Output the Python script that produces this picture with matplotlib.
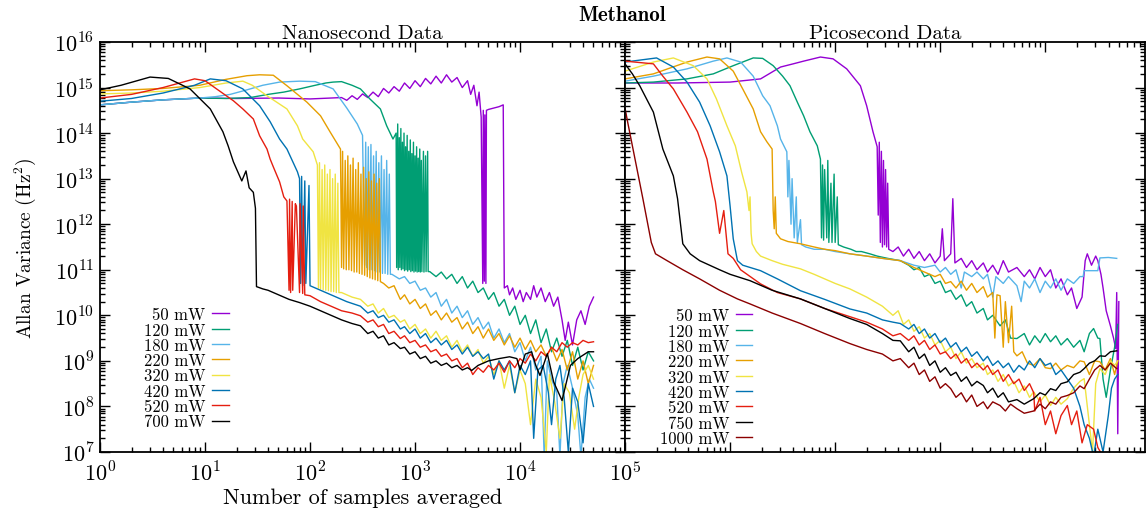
import numpy as np
import matplotlib
matplotlib.use("Agg")
import matplotlib.pyplot as plt
from matplotlib.ticker import FixedLocator, LogLocator, NullFormatter, FuncFormatter

plt.rcParams['font.family'] = 'serif'
plt.rcParams['font.serif'] = ['cmr10', 'DejaVu Serif']
plt.rcParams['mathtext.fontset'] = 'cm'
plt.rcParams['axes.unicode_minus'] = False

# curves, as (log10 samples, log10 variance)
ns_50 = [(0, 14.62), (0.3, 14.68), (0.6, 14.73), (0.95, 14.77), (1.3, 14.76), (1.7, 14.77), (2.0, 14.75),
         (2.3, 14.78), (2.35, 14.72), (2.4, 14.82), (2.45, 14.74), (2.5, 14.86), (2.55, 14.78), (2.6, 14.9),
         (2.65, 14.8), (2.7, 14.98), (2.75, 14.88), (2.8, 15.02), (2.85, 14.92), (2.9, 15.1), (2.95, 14.98),
         (3.0, 15.15), (3.05, 15.02), (3.1, 15.2), (3.15, 15.08), (3.2, 15.25), (3.25, 15.1), (3.3, 15.28),
         (3.35, 15.12), (3.4, 15.22), (3.45, 15.0), (3.5, 15.15), (3.53, 14.85), (3.56, 15.05), (3.59, 14.6),
         (3.61, 14.9), (3.63, 14.35), (3.645, 10.7), (3.65, 14.5), (3.66, 10.75), (3.665, 14.4), (3.675, 10.7),
         (3.68, 14.5), (3.7, 14.52), (3.75, 14.55), (3.8, 14.58), (3.84, 14.62), (3.85, 10.6), (3.88, 10.65),
         (3.9, 10.45), (3.93, 10.6), (3.96, 10.35), (4.0, 10.55), (4.03, 10.3), (4.06, 10.5), (4.1, 10.35),
         (4.13, 10.65), (4.16, 10.4), (4.2, 10.6), (4.24, 10.3), (4.28, 10.5), (4.32, 10.2), (4.36, 10.4),
         (4.4, 9.9), (4.43, 9.45), (4.46, 9.85), (4.5, 9.35), (4.54, 9.9), (4.58, 10.1), (4.62, 9.8),
         (4.66, 10.2), (4.7, 10.4)]
ns_120 = [(0, 14.62), (0.3, 14.68), (0.6, 14.73), (0.95, 14.77), (1.2, 14.76), (1.43, 14.78), (1.6, 14.85),
          (1.75, 14.9), (1.9, 14.97), (2.05, 15.05), (2.15, 15.1), (2.22, 15.12), (2.3, 15.13), (2.4, 15.05),
          (2.48, 14.97), (2.57, 14.75), (2.67, 14.53), (2.73, 14.16), (2.79, 13.87),
          (2.82, 14.0), (2.825, 11.05), (2.835, 14.2), (2.84, 11.0), (2.85, 13.9), (2.855, 11.05), (2.865, 14.1),
          (2.87, 11.0), (2.88, 13.8), (2.885, 11.02), (2.895, 14.0), (2.9, 10.98), (2.91, 13.7), (2.915, 11.0),
          (2.925, 13.95), (2.93, 10.97), (2.94, 13.6), (2.945, 11.0), (2.955, 13.85), (2.96, 10.96),
          (2.97, 13.55), (2.975, 10.98), (2.985, 13.8), (2.99, 10.95), (3.0, 13.5), (3.005, 10.97),
          (3.015, 13.7), (3.02, 10.95), (3.03, 13.45), (3.035, 10.96), (3.045, 13.65), (3.05, 10.95),
          (3.06, 13.4), (3.065, 10.96), (3.08, 13.6), (3.085, 10.95), (3.1, 13.5), (3.105, 10.96),
          (3.12, 13.6), (3.125, 10.96),
          (3.14, 10.96), (3.2, 10.85), (3.25, 10.95), (3.3, 10.8), (3.35, 10.9), (3.4, 10.7), (3.45, 10.85),
          (3.5, 10.6), (3.55, 10.75), (3.6, 10.5), (3.65, 10.6), (3.7, 10.35), (3.75, 10.5), (3.8, 10.2),
          (3.85, 10.35), (3.9, 10.0), (3.95, 10.2), (4.0, 9.8), (4.05, 10.0), (4.1, 9.6), (4.15, 9.9),
          (4.2, 9.4), (4.25, 9.7), (4.3, 9.2), (4.35, 9.5), (4.4, 9.1), (4.45, 9.45), (4.5, 8.9), (4.55, 9.3),
          (4.6, 8.8), (4.65, 9.2), (4.7, 9.0)]
ns_180 = [(0, 14.62), (0.3, 14.68), (0.6, 14.73), (0.95, 14.77), (1.1, 14.8), (1.24, 14.85), (1.4, 14.95),
          (1.55, 15.05), (1.71, 15.12), (1.9, 15.14), (2.05, 15.13), (2.22, 14.97), (2.35, 14.55),
          (2.45, 14.2), (2.5, 13.95),
          (2.52, 11.1), (2.53, 13.8), (2.54, 11.05), (2.555, 13.7), (2.565, 11.0), (2.58, 13.75), (2.59, 11.0),
          (2.605, 13.5), (2.615, 10.98), (2.63, 13.6), (2.64, 10.95), (2.655, 13.35), (2.665, 10.95),
          (2.68, 13.5), (2.69, 10.92), (2.705, 13.2), (2.715, 10.92), (2.73, 13.4), (2.74, 10.9),
          (2.755, 13.1), (2.765, 10.9),
          (2.78, 10.9), (2.85, 10.8), (2.9, 10.85), (2.95, 10.7), (3.0, 10.75), (3.05, 10.55), (3.1, 10.6),
          (3.15, 10.4), (3.2, 10.5), (3.25, 10.2), (3.3, 10.35), (3.35, 10.05), (3.4, 10.2), (3.45, 9.95),
          (3.5, 10.1), (3.55, 9.8), (3.6, 9.95), (3.65, 9.7), (3.7, 9.85), (3.75, 9.5), (3.8, 9.7),
          (3.85, 9.4), (3.9, 9.6), (3.95, 9.2), (4.0, 9.4), (4.05, 9.0), (4.1, 9.3), (4.15, 8.8), (4.2, 9.1),
          (4.23, 6.9), (4.26, 9.0), (4.3, 8.6), (4.35, 8.3), (4.38, 6.9), (4.41, 8.5), (4.45, 8.9), (4.5, 8.4),
          (4.55, 7.8), (4.58, 6.9), (4.62, 8.2), (4.66, 8.6), (4.7, 8.4)]
ns_220 = [(0, 14.93), (0.3, 14.95), (0.6, 14.98), (0.95, 15.05), (1.2, 15.18), (1.4, 15.26), (1.52, 15.28),
          (1.65, 15.27), (1.78, 15.04), (1.97, 14.68), (2.1, 14.38), (2.19, 14.03), (2.29, 13.65),
          (2.3, 11.05), (2.31, 13.6), (2.32, 11.02), (2.335, 13.4), (2.345, 11.0), (2.36, 13.5), (2.37, 11.0),
          (2.385, 13.3), (2.395, 10.98), (2.41, 13.45), (2.42, 10.95), (2.435, 13.2), (2.445, 10.95),
          (2.46, 13.35), (2.47, 10.92), (2.485, 13.1), (2.495, 10.9), (2.51, 13.25), (2.52, 10.88),
          (2.535, 13.0), (2.545, 10.85), (2.56, 13.15), (2.57, 10.82), (2.585, 12.95), (2.595, 10.8),
          (2.61, 13.1), (2.62, 10.78), (2.635, 12.9), (2.645, 10.76), (2.66, 13.0), (2.67, 10.74),
          (2.7, 10.7), (2.75, 10.6), (2.8, 10.65), (2.86, 10.35), (2.9, 10.45), (2.95, 10.25), (3.0, 10.35),
          (3.05, 10.15), (3.1, 10.25), (3.15, 10.0), (3.2, 10.1), (3.25, 9.9), (3.3, 10.05), (3.35, 9.85),
          (3.4, 9.95), (3.45, 9.7), (3.5, 9.85), (3.55, 9.6), (3.6, 9.75), (3.65, 9.5), (3.7, 9.7),
          (3.75, 9.45), (3.8, 9.6), (3.85, 9.35), (3.9, 9.55), (3.95, 9.3), (4.0, 9.5), (4.05, 9.25),
          (4.1, 9.45), (4.15, 9.2), (4.2, 9.35), (4.25, 9.1), (4.3, 9.3), (4.35, 9.0), (4.4, 9.25),
          (4.45, 8.8), (4.5, 9.2), (4.55, 8.6), (4.6, 9.0), (4.65, 8.5), (4.7, 8.9)]
ns_320 = [(0, 14.86), (0.3, 14.88), (0.6, 14.92), (0.95, 15.0), (1.2, 15.1), (1.36, 15.14), (1.45, 15.05),
          (1.59, 14.82), (1.78, 14.53), (1.88, 14.16), (1.93, 13.87), (2.03, 13.59), (2.07, 13.3),
          (2.08, 10.6), (2.09, 13.35), (2.1, 10.58), (2.115, 13.2), (2.125, 10.56), (2.14, 13.3), (2.15, 10.55),
          (2.165, 13.1), (2.175, 10.54), (2.19, 13.2), (2.2, 10.52), (2.215, 13.0), (2.225, 10.52),
          (2.24, 13.1), (2.25, 10.5), (2.265, 12.9), (2.275, 10.5),
          (2.3, 10.5), (2.4, 10.4), (2.48, 10.35), (2.55, 10.2), (2.6, 10.25), (2.65, 10.05), (2.7, 10.15),
          (2.75, 9.95), (2.8, 10.0), (2.86, 9.85), (2.9, 9.9), (2.95, 9.7), (3.0, 9.8), (3.05, 9.6),
          (3.1, 9.7), (3.15, 9.5), (3.2, 9.65), (3.25, 9.45), (3.3, 9.55), (3.35, 9.3), (3.4, 9.45),
          (3.45, 9.2), (3.5, 9.35), (3.55, 9.1), (3.6, 9.25), (3.65, 8.95), (3.7, 9.1), (3.75, 8.7),
          (3.8, 9.0), (3.85, 8.4), (3.9, 8.9), (3.95, 8.3), (4.0, 8.8), (4.05, 8.5), (4.1, 7.6), (4.15, 8.6),
          (4.2, 8.2), (4.25, 7.0), (4.28, 8.7), (4.33, 8.1), (4.38, 7.3), (4.42, 8.5), (4.47, 8.3),
          (4.52, 7.5), (4.56, 8.2), (4.6, 8.7), (4.65, 8.9), (4.7, 8.6)]
ns_420 = [(0, 14.7), (0.3, 14.76), (0.6, 14.88), (0.9, 15.05), (1.05, 15.19), (1.2, 15.15), (1.36, 14.97),
          (1.52, 14.6), (1.62, 14.25), (1.71, 13.87), (1.78, 13.65), (1.88, 13.15), (1.9, 13.0),
          (1.91, 10.7), (1.92, 13.05), (1.93, 10.65), (1.95, 12.95), (1.96, 10.7), (1.99, 12.85), (2.0, 10.65),
          (2.05, 10.6), (2.15, 10.5), (2.25, 10.4), (2.35, 10.3), (2.48, 10.2), (2.55, 10.05), (2.6, 10.1),
          (2.65, 9.95), (2.7, 10.0), (2.75, 9.85), (2.8, 9.9), (2.86, 9.7), (2.9, 9.75), (2.95, 9.6),
          (3.0, 9.7), (3.05, 9.5), (3.1, 9.6), (3.15, 9.4), (3.2, 9.5), (3.25, 9.35), (3.3, 9.45),
          (3.35, 9.25), (3.4, 9.35), (3.45, 9.15), (3.5, 9.3), (3.55, 9.1), (3.6, 9.2), (3.65, 9.05),
          (3.7, 9.15), (3.75, 8.6), (3.8, 9.0), (3.85, 8.8), (3.9, 9.0), (3.95, 8.3), (4.0, 8.9), (4.05, 8.7),
          (4.1, 9.0), (4.13, 7.3), (4.17, 8.8), (4.22, 8.9), (4.27, 8.3), (4.3, 7.6), (4.34, 8.6),
          (4.38, 8.9), (4.42, 8.2), (4.46, 7.0), (4.5, 8.4), (4.55, 8.1), (4.6, 7.2), (4.65, 8.5), (4.7, 8.0)]
ns_520 = [(0, 14.77), (0.3, 14.85), (0.6, 15.0), (0.9, 15.19), (1.0, 15.15), (1.11, 14.97), (1.27, 14.71),
          (1.36, 14.53), (1.46, 14.31), (1.52, 13.94), (1.59, 13.65), (1.62, 13.43), (1.65, 13.26),
          (1.71, 12.93), (1.75, 12.6), (1.78, 12.51),
          (1.8, 10.55), (1.805, 12.55), (1.815, 10.5), (1.83, 12.5), (1.835, 10.55), (1.86, 12.45),
          (1.87, 12.4), (1.9, 10.5), (1.905, 12.45), (1.93, 10.48), (1.935, 12.4), (1.95, 10.45),
          (2.0, 10.43), (2.1, 10.3), (2.2, 10.2), (2.3, 10.1), (2.4, 10.05), (2.48, 9.99), (2.55, 9.85),
          (2.6, 9.9), (2.65, 9.75), (2.7, 9.8), (2.75, 9.6), (2.8, 9.65), (2.86, 9.49), (2.9, 9.55),
          (2.95, 9.4), (3.0, 9.45), (3.05, 9.3), (3.1, 9.35), (3.15, 9.2), (3.2, 9.25), (3.25, 9.1),
          (3.3, 9.15), (3.35, 9.0), (3.4, 9.05), (3.45, 8.85), (3.5, 8.95), (3.55, 8.7), (3.6, 8.85),
          (3.65, 8.75), (3.7, 8.9), (3.75, 8.8), (3.8, 8.95), (3.85, 8.75), (3.9, 9.0), (3.95, 8.85),
          (4.0, 9.05), (4.05, 8.95), (4.1, 9.15), (4.15, 9.0), (4.2, 9.2), (4.25, 9.1), (4.3, 9.3),
          (4.35, 9.2), (4.4, 9.4), (4.45, 9.3), (4.5, 9.4), (4.55, 9.35), (4.6, 9.45), (4.65, 9.4), (4.7, 9.42)]
ns_700 = [(0, 14.95), (0.2, 15.05), (0.476, 15.23), (0.65, 15.2), (0.857, 14.97), (1.05, 14.53),
          (1.17, 14.03), (1.22, 13.72), (1.27, 13.37), (1.35, 12.95), (1.39, 13.17), (1.42, 12.8),
          (1.46, 12.7), (1.48, 12.35), (1.49, 10.63),
          (1.55, 10.58), (1.6, 10.55), (1.7, 10.45), (1.8, 10.35), (1.9, 10.28), (2.0, 10.2), (2.1, 10.1),
          (2.2, 10.0), (2.3, 9.9), (2.4, 9.82), (2.48, 9.77), (2.55, 9.6), (2.6, 9.65), (2.65, 9.5),
          (2.7, 9.55), (2.75, 9.35), (2.8, 9.4), (2.86, 9.27), (2.9, 9.3), (2.95, 9.15), (3.0, 9.2),
          (3.05, 9.05), (3.1, 9.1), (3.15, 8.95), (3.2, 9.0), (3.25, 8.9), (3.3, 8.95), (3.35, 8.85),
          (3.4, 8.9), (3.45, 8.8), (3.5, 8.85), (3.54, 8.79), (3.6, 8.9), (3.7, 9.0), (3.8, 9.05),
          (3.9, 9.09), (3.97, 9.05), (4.0, 8.8), (4.05, 9.15), (4.11, 9.2), (4.15, 8.9), (4.19, 8.68),
          (4.26, 9.16), (4.32, 8.54), (4.4, 8.13), (4.48, 8.9), (4.55, 9.05), (4.59, 9.11), (4.65, 9.2),
          (4.7, 9.2)]

ps_50 = [(0, 15.1), (0.5, 15.1), (1.0, 15.12), (1.29, 15.19), (1.48, 15.45), (1.6, 15.52), (1.7, 15.58),
         (1.86, 15.67), (1.98, 15.63), (2.11, 15.41), (2.24, 15.04), (2.3, 14.6), (2.36, 14.03), (2.4, 13.7),
         (2.41, 12.2), (2.42, 13.8), (2.43, 11.6), (2.44, 13.6), (2.45, 11.5), (2.46, 13.4), (2.47, 11.55),
         (2.48, 13.2), (2.49, 11.5), (2.5, 12.9), (2.51, 11.45),
         (2.55, 11.4), (2.6, 11.5), (2.65, 11.3), (2.7, 11.45), (2.75, 11.25), (2.8, 11.4), (2.85, 11.2),
         (2.9, 11.35), (2.95, 11.15), (3.0, 11.3), (3.02, 11.9), (3.04, 11.2), (3.1, 11.35), (3.12, 12.56),
         (3.14, 11.15), (3.2, 11.25), (3.25, 11.05), (3.3, 11.2), (3.35, 11.0), (3.41, 11.15), (3.45, 10.95),
         (3.5, 11.1), (3.55, 10.9), (3.6, 11.2), (3.65, 10.95), (3.73, 11.05), (3.8, 10.85), (3.85, 11.0),
         (3.9, 10.8), (3.95, 11.05), (4.0, 10.85), (4.05, 11.0), (4.1, 10.6), (4.15, 10.8), (4.21, 10.45),
         (4.25, 10.6), (4.3, 10.15), (4.35, 10.4), (4.38, 11.2), (4.4, 11.35), (4.44, 11.1), (4.48, 11.3),
         (4.5, 11.2), (4.53, 10.9), (4.55, 10.6), (4.58, 10.1), (4.62, 9.77), (4.65, 9.5), (4.67, 9.27),
         (4.68, 10.5), (4.69, 7.4), (4.7, 10.3)]
ps_120 = [(0, 15.1), (0.27, 15.12), (0.59, 15.19), (0.84, 15.3), (1.03, 15.48), (1.22, 15.65), (1.31, 15.64),
          (1.41, 15.48), (1.5, 15.25), (1.57, 15.04), (1.64, 14.68), (1.7, 14.38), (1.76, 14.03),
          (1.83, 13.72), (1.86, 13.43),
          (1.87, 11.7), (1.88, 13.3), (1.89, 11.65), (1.9, 13.2), (1.92, 11.7), (1.93, 13.4), (1.94, 11.6),
          (1.96, 12.9), (1.97, 11.6), (1.99, 13.1), (2.0, 11.6), (2.02, 12.6), (2.03, 11.55),
          (2.08, 11.5), (2.15, 11.45), (2.2, 11.4), (2.25, 11.4), (2.33, 11.35), (2.4, 11.3), (2.5, 11.25),
          (2.62, 11.2), (2.7, 11.1), (2.75, 11.0), (2.8, 11.05), (2.85, 10.85), (2.9, 10.9), (2.95, 10.7),
          (3.0, 10.75), (3.05, 10.5), (3.1, 10.55), (3.15, 10.35), (3.2, 10.45), (3.25, 10.2), (3.3, 10.3),
          (3.35, 10.05), (3.41, 10.15), (3.45, 9.9), (3.5, 10.0), (3.57, 9.77), (3.62, 9.9), (3.67, 9.5),
          (3.73, 9.49), (3.8, 9.6), (3.85, 9.35), (3.9, 9.55), (3.95, 9.4), (4.0, 9.6), (4.05, 9.42),
          (4.1, 9.55), (4.15, 9.35), (4.21, 9.49), (4.27, 9.3), (4.33, 9.45), (4.37, 9.2), (4.42, 9.6),
          (4.46, 9.71), (4.5, 9.5), (4.52, 9.49), (4.55, 8.6), (4.58, 8.2), (4.62, 8.8), (4.66, 9.3), (4.69, 9.8)]
ps_180 = [(0, 15.14), (0.27, 15.25), (0.59, 15.41), (0.84, 15.58), (0.97, 15.65), (1.1, 15.56), (1.22, 15.25),
          (1.31, 14.82), (1.38, 14.6), (1.45, 14.16), (1.48, 13.87), (1.54, 13.59),
          (1.55, 12.6), (1.56, 13.4), (1.58, 12.0), (1.59, 13.0), (1.61, 11.7), (1.63, 12.6), (1.64, 11.6),
          (1.67, 12.1), (1.68, 11.55),
          (1.72, 11.5), (1.8, 11.45), (1.9, 11.45), (2.0, 11.4), (2.14, 11.35), (2.3, 11.3), (2.45, 11.25),
          (2.62, 11.2), (2.75, 11.1), (2.85, 11.05), (2.95, 11.1), (3.0, 10.95), (3.05, 11.05), (3.1, 10.9),
          (3.15, 11.0), (3.2, 10.6), (3.23, 10.95), (3.3, 10.85), (3.35, 10.95), (3.41, 10.8), (3.45, 10.9),
          (3.5, 10.4), (3.53, 10.85), (3.6, 10.7), (3.65, 10.85), (3.73, 10.65), (3.77, 10.3), (3.8, 10.75),
          (3.85, 10.6), (3.9, 10.8), (3.95, 10.5), (4.0, 10.75), (4.05, 10.6), (4.1, 10.8), (4.15, 10.55),
          (4.21, 10.8), (4.27, 10.7), (4.33, 10.85), (4.36, 10.85), (4.37, 10.98), (4.45, 10.98),
          (4.5, 10.98), (4.52, 11.26), (4.6, 11.27), (4.68, 11.25)]
ps_220 = [(0, 15.19), (0.27, 15.3), (0.59, 15.56), (0.78, 15.67), (0.9, 15.63), (1.03, 15.36), (1.12, 14.97),
          (1.22, 14.53), (1.29, 14.03), (1.35, 13.81), (1.4, 13.65), (1.41, 12.3), (1.42, 11.9), (1.43, 12.6),
          (1.44, 11.8), (1.48, 11.68), (1.55, 11.62), (1.67, 11.57), (1.8, 11.5), (1.9, 11.45), (2.0, 11.42),
          (2.14, 11.35), (2.3, 11.3), (2.45, 11.25), (2.62, 11.2), (2.75, 11.05), (2.85, 10.95),
          (2.95, 10.85), (3.0, 10.9), (3.05, 10.7), (3.1, 10.74), (3.15, 10.6), (3.2, 10.75), (3.25, 10.55),
          (3.3, 10.7), (3.35, 10.5), (3.41, 10.63), (3.45, 10.4), (3.5, 10.5), (3.52, 9.5), (3.54, 10.45),
          (3.57, 10.43), (3.6, 9.3), (3.62, 10.3), (3.65, 9.4), (3.68, 10.2), (3.7, 9.2), (3.73, 9.11),
          (3.78, 9.2), (3.83, 8.95), (3.89, 8.9), (3.95, 9.05), (4.0, 8.85), (4.05, 8.83), (4.1, 8.95),
          (4.15, 8.8), (4.21, 8.9), (4.27, 8.85), (4.33, 9.0), (4.37, 8.98), (4.42, 8.7), (4.47, 9.0),
          (4.52, 8.98), (4.57, 8.8), (4.62, 9.05), (4.66, 8.7), (4.69, 9.0)]
ps_320 = [(0, 15.36), (0.27, 15.56), (0.46, 15.65), (0.65, 15.48), (0.78, 15.19), (0.87, 14.75), (0.97, 14.16),
          (1.05, 13.72), (1.11, 13.14), (1.16, 12.71), (1.18, 12.3), (1.19, 12.6), (1.2, 11.8), (1.21, 11.57),
          (1.25, 11.4), (1.29, 11.3), (1.4, 11.2), (1.5, 11.12), (1.67, 11.02), (1.8, 10.9), (1.9, 10.8),
          (2.0, 10.7), (2.14, 10.58), (2.3, 10.4), (2.45, 10.2), (2.55, 10.0), (2.6, 10.1), (2.65, 9.8),
          (2.7, 9.9), (2.75, 9.65), (2.8, 9.75), (2.85, 9.5), (2.9, 9.6), (2.95, 9.35), (3.0, 9.45),
          (3.05, 9.2), (3.1, 9.3), (3.15, 9.05), (3.2, 9.2), (3.25, 8.95), (3.3, 9.05), (3.35, 8.85),
          (3.41, 8.95), (3.45, 8.7), (3.5, 8.8), (3.55, 8.55), (3.6, 8.7), (3.65, 8.45), (3.7, 8.55),
          (3.75, 8.3), (3.8, 8.45), (3.85, 8.2), (3.89, 8.32), (3.95, 8.1), (4.0, 8.25), (4.05, 8.02),
          (4.1, 8.2), (4.15, 8.05), (4.21, 8.17), (4.27, 8.4), (4.33, 8.55), (4.37, 8.61), (4.42, 7.6),
          (4.45, 7.0), (4.48, 8.5), (4.52, 8.83), (4.57, 8.7), (4.62, 9.0), (4.66, 8.9), (4.69, 9.0)]
ps_420 = [(0, 15.56), (0.3, 15.65), (0.46, 15.45), (0.59, 15.12), (0.71, 14.68), (0.81, 14.16), (0.9, 13.59),
          (0.97, 13.06), (1.0, 12.4), (1.03, 11.68), (1.07, 11.2), (1.12, 11.1), (1.29, 10.98), (1.45, 10.8),
          (1.67, 10.54), (1.9, 10.35), (2.14, 10.14), (2.3, 10.05), (2.45, 9.9), (2.55, 9.85), (2.62, 9.82),
          (2.7, 9.7), (2.75, 9.8), (2.8, 9.6), (2.85, 9.7), (2.9, 9.5), (2.95, 9.6), (3.0, 9.4), (3.05, 9.5),
          (3.1, 9.3), (3.15, 9.4), (3.2, 9.2), (3.25, 9.3), (3.3, 9.1), (3.35, 9.2), (3.41, 9.0),
          (3.45, 9.1), (3.5, 8.9), (3.55, 9.0), (3.6, 8.85), (3.65, 8.95), (3.7, 8.75), (3.75, 8.9),
          (3.8, 8.8), (3.85, 9.0), (3.9, 8.85), (3.95, 9.05), (4.0, 8.9), (4.05, 8.95), (4.1, 8.7),
          (4.15, 8.8), (4.21, 8.6), (4.27, 8.4), (4.33, 8.0), (4.37, 7.6), (4.42, 7.3), (4.46, 6.9),
          (4.5, 7.5), (4.55, 7.0), (4.6, 7.8), (4.63, 8.4), (4.66, 8.6), (4.69, 8.7)]
ps_520 = [(0, 15.58), (0.27, 15.52), (0.36, 15.25), (0.46, 14.97), (0.59, 14.46), (0.69, 14.03), (0.78, 13.43),
          (0.84, 12.71), (0.86, 12.5), (0.9, 11.8), (0.94, 12.3), (0.98, 11.35), (1.03, 11.25), (1.1, 11.0),
          (1.29, 10.69), (1.45, 10.5), (1.67, 10.36), (1.9, 10.15), (2.14, 9.97), (2.3, 9.85), (2.45, 9.7),
          (2.55, 9.55), (2.62, 9.6), (2.7, 9.45), (2.75, 9.55), (2.8, 9.35), (2.85, 9.45), (2.9, 9.25),
          (2.95, 9.35), (3.0, 9.15), (3.05, 9.2), (3.1, 9.05), (3.15, 9.15), (3.2, 8.95), (3.25, 9.05),
          (3.3, 8.85), (3.35, 8.95), (3.41, 8.8), (3.45, 8.9), (3.5, 8.7), (3.55, 8.8), (3.6, 8.55),
          (3.65, 8.7), (3.7, 8.5), (3.75, 8.6), (3.8, 8.35), (3.85, 8.5), (3.89, 8.3), (3.9, 7.9),
          (3.95, 8.2), (4.0, 7.6), (4.05, 7.9), (4.1, 7.4), (4.15, 7.8), (4.21, 8.02), (4.25, 7.6),
          (4.3, 7.9), (4.35, 7.2), (4.4, 7.6), (4.46, 7.5), (4.5, 7.1), (4.55, 6.9)]
ps_750 = [(0, 15.52), (0.07, 15.3), (0.14, 15.04), (0.27, 14.46), (0.36, 13.65), (0.46, 13.06), (0.5, 12.56),
          (0.55, 11.57), (0.62, 11.35), (0.71, 11.2), (0.9, 11.0), (1.0, 10.9), (1.19, 10.76), (1.4, 10.55),
          (1.67, 10.36), (1.9, 10.15), (2.14, 9.93), (2.3, 9.8), (2.45, 9.6), (2.55, 9.45), (2.62, 9.44),
          (2.7, 9.2), (2.75, 9.3), (2.8, 9.05), (2.85, 9.15), (2.9, 8.9), (2.95, 9.0), (3.0, 8.75),
          (3.05, 8.85), (3.1, 8.68), (3.15, 8.75), (3.2, 8.55), (3.25, 8.65), (3.3, 8.45), (3.35, 8.55),
          (3.41, 8.46), (3.45, 8.3), (3.5, 8.4), (3.55, 8.2), (3.6, 8.3), (3.65, 8.1), (3.73, 8.15),
          (3.8, 8.05), (3.89, 8.17), (3.95, 8.3), (4.0, 8.25), (4.05, 8.39), (4.1, 8.35), (4.15, 8.5),
          (4.21, 8.54), (4.27, 8.7), (4.33, 8.75), (4.37, 8.83), (4.42, 8.95), (4.47, 9.0), (4.52, 9.11),
          (4.57, 9.1), (4.62, 9.2), (4.68, 9.22)]
ps_1000 = [(0, 14.55), (0.02, 14.3), (0.17, 12.56), (0.25, 11.6), (0.29, 11.35), (0.4, 11.2), (0.55, 11.0),
           (0.71, 10.8), (0.9, 10.55), (1.07, 10.36), (1.19, 10.25), (1.4, 10.05), (1.67, 9.82), (1.9, 9.6),
           (2.14, 9.38), (2.3, 9.25), (2.45, 9.15), (2.55, 9.0), (2.62, 9.05), (2.7, 8.85), (2.75, 8.95),
           (2.8, 8.7), (2.85, 8.8), (2.9, 8.55), (2.95, 8.65), (3.0, 8.4), (3.05, 8.5), (3.1, 8.39),
           (3.15, 8.2), (3.2, 8.3), (3.25, 8.1), (3.3, 8.25), (3.35, 8.0), (3.41, 8.1), (3.45, 7.95),
           (3.5, 8.1), (3.57, 8.02), (3.62, 7.9), (3.67, 8.05), (3.73, 7.95), (3.8, 7.85), (3.89, 7.9),
           (3.95, 8.05), (4.0, 7.95), (4.05, 8.1), (4.1, 8.05), (4.15, 8.2), (4.21, 8.24), (4.27, 8.3),
           (4.33, 8.45), (4.37, 8.39), (4.42, 8.6), (4.47, 8.8), (4.52, 8.9), (4.57, 8.8), (4.62, 8.95),
           (4.68, 8.83)]

ns_labels = ['50 mW', '120 mW', '180 mW', '220 mW', '320 mW', '420 mW', '520 mW', '700 mW']
ps_labels = ['50 mW', '120 mW', '180 mW', '220 mW', '320 mW', '420 mW', '520 mW', '750 mW', '1000 mW']
ns_curves = [ns_50, ns_120, ns_180, ns_220, ns_320, ns_420, ns_520, ns_700]
ps_curves = [ps_50, ps_120, ps_180, ps_220, ps_320, ps_420, ps_520, ps_750, ps_1000]
colors = ['#9400d3', '#009e73', '#56b4e9', '#e69f00', '#f0e442', '#0072b2', '#e51e10', '#000000', '#8b0000']

fig = plt.figure(figsize=(11.46, 5.10), dpi=100)
axL = fig.add_axes([0.0873, 0.1118, 0.4581, 0.8039])
axR = fig.add_axes([0.5454, 0.1118, 0.4538, 0.8039])


def draw(ax, curves, labels):
    for pts, lab, col in zip(curves, labels, colors):
        lx, ly = np.array(pts).T
        ax.plot(10 ** lx, 10 ** ly, color=col, lw=1.0, label=lab)


draw(axL, ns_curves, ns_labels)
draw(axR, ps_curves, ps_labels)

for ax in (axL, axR):
    ax.set_xscale('log')
    ax.set_yscale('log')
    ax.set_ylim(1e7, 1e16)
    ax.xaxis.set_major_locator(FixedLocator(10.0 ** np.arange(0, 6)))
    ax.yaxis.set_major_locator(FixedLocator(10.0 ** np.arange(7, 17)))
    ax.xaxis.set_minor_locator(LogLocator(base=10, subs=np.arange(2, 10), numticks=200))
    ax.yaxis.set_minor_locator(LogLocator(base=10, subs=np.arange(2, 10), numticks=200))
    ax.xaxis.set_minor_formatter(NullFormatter())
    ax.yaxis.set_minor_formatter(NullFormatter())
    ax.tick_params(which='both', direction='in', top=True, right=True, width=1.0, color='black')
    ax.tick_params(which='major', length=7)
    ax.tick_params(which='minor', length=3.5)
    for s in ax.spines.values():
        s.set_linewidth(1.3)

axL.set_xlim(1, 1e5)
axR.set_xlim(1, 10 ** 4.95)

pow_fmt = FuncFormatter(lambda v, p: r'$10^{%d}$' % int(round(np.log10(v))))
axL.xaxis.set_major_formatter(pow_fmt)
axL.yaxis.set_major_formatter(pow_fmt)
axL.tick_params(axis='y', which='major', labelsize=16, pad=4)
axL.tick_params(axis='x', which='major', labelsize=16, pad=6)
axR.xaxis.set_major_formatter(NullFormatter())
axR.yaxis.set_major_formatter(NullFormatter())

axL.set_xlabel('Number of samples averaged', fontsize=16, labelpad=2)
axL.set_ylabel(r'Allan Variance (Hz$^2$)', fontsize=14, labelpad=12)
axL.set_title('Nanosecond Data', fontsize=15, pad=3)
axR.set_title('Picosecond Data', fontsize=15, pad=3)
fig.text(0.543, 0.97, 'Methanol', family='cmb10', fontsize=15, ha='center', va='center')

for ax, anchor in ((axL, (0.245, 0.055)), (axR, (0.245, 0.015))):
    ax.legend(loc='lower right', bbox_to_anchor=anchor, markerfirst=False, frameon=False,
              fontsize=12, handlelength=1.0, handletextpad=0.4, labelspacing=0.0,
              borderpad=0, borderaxespad=0)

fig.savefig('out.png', dpi=100)
